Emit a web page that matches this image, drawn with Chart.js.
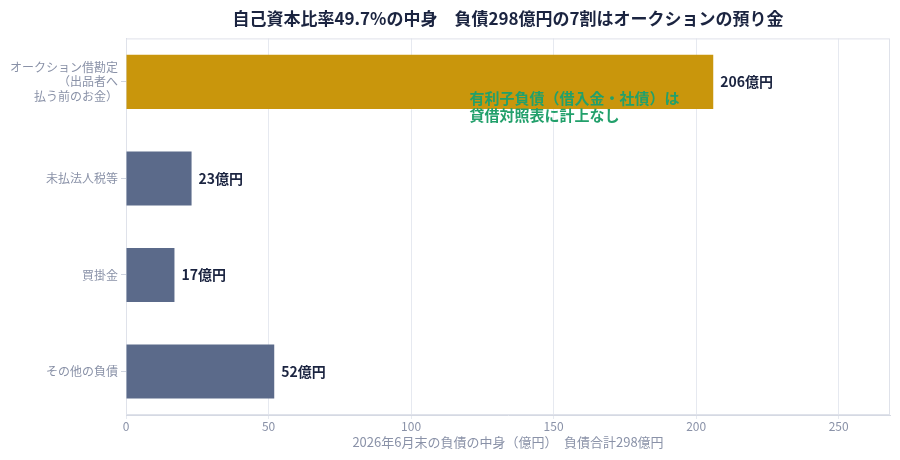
<!DOCTYPE html>
<html>
<head>
<meta charset="utf-8">
<script src="https://cdn.jsdelivr.net/npm/chart.js@4/dist/chart.umd.min.js"></script>
<style>
  html, body { margin: 0; padding: 0; background: #fff; }
  #wrap { width: 900px; height: 460px; }
</style>
</head>
<body>
<div id="wrap"><canvas id="barchart"></canvas></div>
<script>
const categories = [["オークション借勘定", "（出品者へ", "払う前のお金）"], "未払法人税等", "買掛金", "その他の負債"];
const values = [206, 23, 17, 52];
const valueLabels = ["206億円", "23億円", "17億円", "52億円"];
const barColors = ["#c9960c", "#5b6a8a", "#5b6a8a", "#5b6a8a"];
const xTicks = [0, 50, 100, 150, 200, 250];
const noteLines = ["有利子負債（借入金・社債）は", "貸借対照表に計上なし"];

const FONT = '"Noto Sans CJK JP", "Noto Sans", sans-serif';
const grey = '#8a92a8';

// frame around the plot + value labels + note
const extras = {
  id: 'extras',
  beforeDatasetsDraw(chart) {
    const { ctx, chartArea: a } = chart;
    ctx.save();
    ctx.strokeStyle = '#dfe2ea';
    ctx.lineWidth = 1;
    ctx.strokeRect(a.left + 0.5, a.top + 0.5, a.right - a.left - 1, a.bottom - a.top - 1);
    ctx.restore();
  },
  afterDatasetsDraw(chart) {
    const { ctx, scales: { x, y } } = chart;
    const meta = chart.getDatasetMeta(0);
    ctx.save();
    ctx.textBaseline = 'middle';
    ctx.textAlign = 'left';
    ctx.font = 'bold 14px ' + FONT;
    ctx.fillStyle = '#1b2440';
    meta.data.forEach((bar, i) => ctx.fillText(valueLabels[i], bar.x + 7, bar.y));

    ctx.font = 'bold 15px ' + FONT;
    ctx.fillStyle = '#22a06b';
    const nx = x.getPixelForValue(120.5);
    const ny = y.getPixelForValue(0) + 16;
    noteLines.forEach((t, i) => ctx.fillText(t, nx, ny + i * 17));
    ctx.restore();
  }
};

const ctx = document.getElementById('barchart').getContext('2d');
const barchart = new Chart(ctx, {
  type: 'bar',
  data: {
    datasets: [{
      data: values.map((v, i) => ({ x: v, y: i })),
      backgroundColor: barColors,
      categoryPercentage: 1,
      barPercentage: 0.56,
    }]
  },
  options: {
    indexAxis: 'y',
    responsive: true,
    maintainAspectRatio: false,
    animation: false,
    layout: { padding: { left: 0, right: 10, top: 0, bottom: 7 } },
    plugins: {
      legend: { display: false },
      tooltip: { enabled: false },
      title: {
        display: true,
        fullSize: false,
        text: '自己資本比率49.7%の中身　負債298億円の7割はオークションの預り金',
        color: '#1b2440',
        font: { family: FONT, size: 17, weight: 'bold' },
        padding: { top: 8, bottom: 10 }
      }
    },
    scales: {
      x: {
        type: 'linear',
        min: 0,
        max: 268,
        afterBuildTicks: s => { s.ticks = xTicks.map(v => ({ value: v })); },
        ticks: { color: grey, font: { family: FONT, size: 12 }, padding: 0 },
        grid: { color: '#e6e9f0', tickLength: 4 },
        border: { color: '#d5d9e3' },
        title: {
          display: true,
          text: '2026年6月末の負債の中身（億円）　負債合計298億円',
          color: grey,
          font: { family: FONT, size: 13 },
          padding: { top: 1, bottom: 3 }
        }
      },
      y: {
        type: 'linear',
        reverse: true,
        offset: false,
        bounds: 'data',
        min: -0.45,
        max: 3.45,
        afterBuildTicks: s => { s.ticks = categories.map((c, i) => ({ value: i })); },
        afterFit: s => { s.width = 126; },
        ticks: {
          color: grey,
          font: { family: FONT, size: 12 },
          padding: 3,
          autoSkip: false,
          callback: v => categories[v]
        },
        grid: { offset: false, drawOnChartArea: false, tickLength: 5, color: '#cfd4df' },
        border: { color: '#d5d9e3' }
      }
    }
  },
  plugins: [extras]
});
</script>
</body>
</html>
